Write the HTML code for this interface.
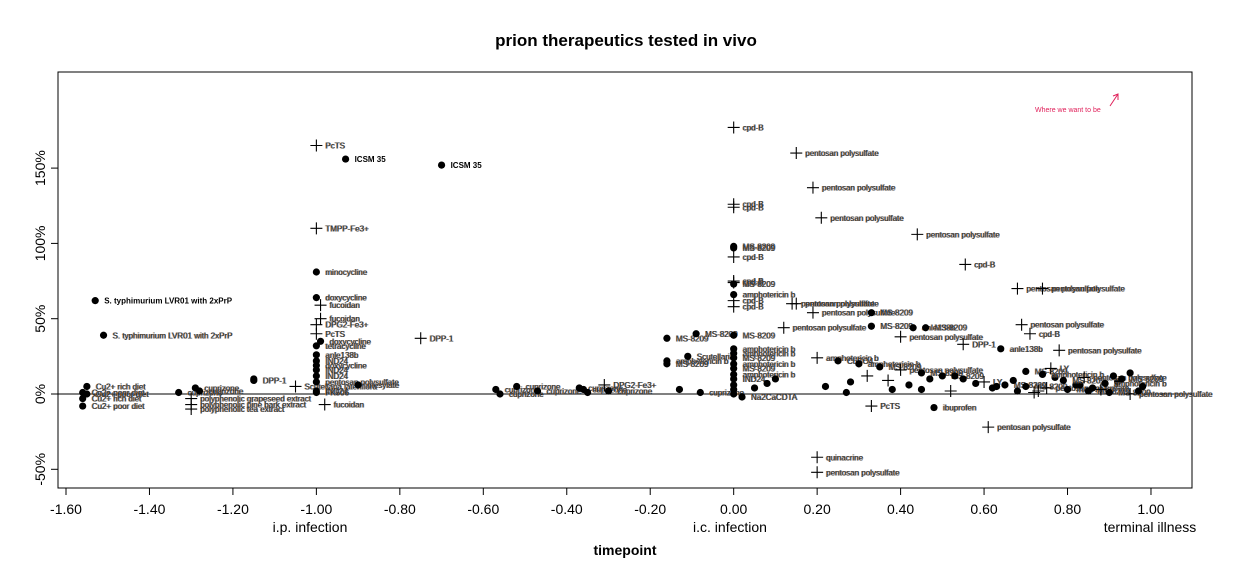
<!DOCTYPE html>
<html><head><meta charset="utf-8">
<style>
html,body{margin:0;padding:0;background:#fff;}
svg text{font-family:"Liberation Sans",sans-serif;}
.lbl{font-size:8px;fill:#333;text-shadow:-0.7px 0 rgba(216,112,10,0.7),0.7px 0 rgba(26,111,208,0.8);}
</style></head>
<body>
<svg id="chart" width="1252" height="582" xmlns="http://www.w3.org/2000/svg">
<rect width="1252" height="582" fill="#fff"/>
<text x="626" y="46" text-anchor="middle" font-size="17" font-weight="bold">prion therapeutics tested in vivo</text>
<rect x="58" y="72" width="1134" height="416" fill="none" stroke="#000" stroke-width="1"/>
<g id="axes"></g>
<g id="marks"></g>
<text x="625" y="555" text-anchor="middle" font-size="14" font-weight="bold">timepoint</text>
<text x="310" y="532" text-anchor="middle" font-size="14">i.p. infection</text>
<text x="730" y="532" text-anchor="middle" font-size="14">i.c. infection</text>
<text x="1150" y="532" text-anchor="middle" font-size="14">terminal illness</text>
<text x="1035" y="112" font-size="7" fill="#e0205a">Where we want to be</text>
<g stroke="#e0205a" fill="none" stroke-width="1">
<line x1="1110" y1="106" x2="1118" y2="94"/><polyline points="1113,96 1118,94 1118,100"/>
</g>
</svg>
<script>
const xTicks=[-1.6,-1.4,-1.2,-1.0,-0.8,-0.6,-0.4,-0.2,0.0,0.2,0.4,0.6,0.8,1.0];
const xTickLabels=["-1.60","-1.40","-1.20","-1.00","-0.80","-0.60","-0.40","-0.20","0.00","0.20","0.40","0.60","0.80","1.00"];
const yTicks=[-50,0,50,100,150];
const yTickLabels=["-50%","0%","50%","100%","150%"];
const px=[-1.53,-1.51,-1.55,-1.56,-1.56,-1.56,-1.55,-1.33,-1.29,-1.28,-1.30,-1.30,-1.30,-1.15,-1.15,-1.05,-1.00,-0.93,-0.70,-1.00,-1.00,-1.00,-0.99,-0.99,-1.00,-1.00,-0.99,-1.00,-1.00,-1.00,-1.00,-1.00,-1.00,-1.00,-1.00,-0.90,-1.00,-0.98,-0.75,-0.57,-0.56,-0.52,-0.47,-0.37,-0.36,-0.35,-0.31,-0.30,-0.16,-0.09,-0.16,-0.16,-0.11,-0.13,-0.08,
0.00,0.00,0.00,0.00,0.00,0.00,0.00,0.00,0.00,0.00,0.00,0.00,0.00,0.00,0.00,0.00,0.00,0.00,0.00,0.00,0.00,0.00,0.00,
0.15,0.19,0.21,0.44,0.555,0.68,0.74,0.15,0.14,0.19,0.33,0.33,0.43,0.46,0.40,0.55,0.64,0.78,0.69,0.71,0.12,0.48,0.33,0.61,0.20,0.20,0.02,
0.20,0.25,0.30,0.35,0.40,0.45,0.50,0.55,0.60,0.65,0.70,0.75,0.80,0.85,0.90,0.95,0.22,0.28,0.32,0.38,0.42,0.47,0.52,0.58,0.62,0.67,0.72,0.77,0.82,0.88,0.92,0.97,0.10,0.05,0.08,0.27,0.37,0.45,0.53,0.63,0.73,0.83,
0.70,0.74,0.79,0.84,0.89,0.93,0.98,0.76,0.86,0.91,0.68,0.95];
const py=[62,39,5,1,-3,-8,0,1,4,2,-3,-7,-10,9,10,5,165,156,152,110,81,64,59,50,46,40,35,32,26,22,19,16,12,8,2,6,1,-7,37,3,0,5,2,4,3,1,6,2,37,40,22,20,25,3,1,
177,126,124,98,97,91,75,74,73,66,62,58,39,30,27,24,20,17,13,10,6,3,0,
160,137,117,106,86,70,70,60,60,54,54,45,44,44,38,33,30,29,46,40,44,-9,-8,-22,-42,-52,-2,
24,22,20,18,16,14,12,10,8,6,5,4,3,2,1,0,5,8,12,3,6,10,2,7,4,9,1,11,6,3,8,2,10,4,7,1,9,3,12,5,2,6,
15,13,9,11,7,10,5,17,4,12,2,14];
const pm=["d","d","d","d","d","d","d","d","d","d","p","p","p","d","d","p","p","d","d","p","d","d","p","p","p","p","d","d","d","d","d","d","d","d","d","d","d","p","p","d","d","d","d","d","d","d","p","d","d","d","d","d","d","d","d",
"p","p","p","d","d","p","p","p","d","d","p","p","d","d","d","d","d","d","d","d","d","d","d",
"p","p","p","p","p","p","p","p","p","p","d","d","d","d","p","p","d","p","p","p","p","d","p","p","p","p","d",
"p","d","d","d","p","d","d","d","p","d","d","p","d","d","d","p","d","d","p","d","d","d","p","d","d","d","p","d","d","p","d","d","d","d","d","d","p","d","d","d","p","d",
"d","d","d","p","d","d","d","p","d","d","d","d"];
const pl=["S. typhimurium LVR01 with 2xPrP","S. typhimurium LVR01 with 2xPrP","Cu2+ rich diet","Cu2+ poor diet","Cu2+ rich diet","Cu2+ poor diet","Cu2+ poor diet","cuprizone","cuprizone","cuprizone","polyphenolic grapeseed extract","polyphenolic pine bark extract","polyphenolic tea extract","DPP-1","","Scutellaria lateriflora","PcTS","ICSM 35","ICSM 35","TMPP-Fe3+","minocycline","doxycycline","fucoidan","fucoidan","DPG2-Fe3+","PcTS","doxycycline","tetracycline","anle138b","IND24","doxycycline","IND24","IND24","pentosan polysulfate","IND24","mesylate","FK506","fucoidan","DPP-1","cuprizone","cuprizone","cuprizone","cuprizone","cuprizone","cuprizone","","DPG2-Fe3+","cuprizone","MS-8209","MS-8209","amphotericin b","MS-8209","Scutellaria","","cuprizone",
"cpd-B","cpd-B","cpd-B","MS-8209","MS-8209","cpd-B","cpd-B","cpd-B","MS-8209","amphotericin b","cpd-B","cpd-B","MS-8209","amphotericin b","amphotericin b","MS-8209","amphotericin b","MS-8209","amphotericin b","IND24","","","",
"pentosan polysulfate","pentosan polysulfate","pentosan polysulfate","pentosan polysulfate","cpd-B","pentosan polysulfate","pentosan polysulfate","pentosan polysulfate","pentosan polysulfate","pentosan polysulfate","MS-8209","MS-8209","anle138b","MS-8209","pentosan polysulfate","DPP-1","anle138b","pentosan polysulfate","pentosan polysulfate","cpd-B","pentosan polysulfate","ibuprofen","PcTS","pentosan polysulfate","quinacrine","pentosan polysulfate","Na2CaCDTA",
"amphotericin b","CuSO4","amphotericin b","MS-8209","pentosan polysulfate","MS-8209","MS-8209","","LY","MS-8209","MS-8209","pentosan polysulfate","mAb 31C6","MS-8209","MS-8209","pentosan polysulfate","","","","","","","","","","","","","","","","","","","","","","","","","","",
"MS-8209","amphotericin b","MS-8209","pentosan polysulfate","amphotericin b","MS-8209","","LY","","","",""];
const bold=[0,17,18];
const X=v=>66+(v+1.6)*417.3, Y=v=>394-v*1.506;
const NS="http://www.w3.org/2000/svg";
const ax=document.getElementById('axes'), mk=document.getElementById('marks');
function mkEl(t,a,p){const e=document.createElementNS(NS,t);for(const k in a)e.setAttribute(k,a[k]);p.appendChild(e);return e;}
xTicks.forEach((v,i)=>{
  const t=mkEl('line',{x1:X(v),x2:X(v),y1:488,y2:495,stroke:'#000'},ax);
  
  
  const l=mkEl('text',{x:X(v),y:514,'text-anchor':'middle','font-size':14},ax);
  l.textContent=xTickLabels[i];
  
  
});
yTicks.forEach((v,i)=>{
  const t=mkEl('line',{x1:51,x2:58,y1:Y(v),y2:Y(v),stroke:'#000'},ax);
  
  
  const l=mkEl('text',{x:0,y:0,'text-anchor':'middle','font-size':14,transform:`translate(45,${Y(v)}) rotate(-90)`},ax);
  l.textContent=yTickLabels[i];
  
  
});
const zl=mkEl('line',{x1:58,x2:1192,y1:Y(0),y2:Y(0),stroke:'#000'},ax);


px.forEach((v,i)=>{
  const cx=X(v), cy=Y(py[i]);
  let m;
  if(pm[i]==='d'){m=mkEl('circle',{cx:cx,cy:cy,r:3.6,fill:'#000'},mk);}
  else{m=mkEl('path',{d:`M${cx-6},${cy}H${cx+6}M${cx},${cy-6}V${cy+6}`,stroke:'#000','stroke-width':1.1},mk);}
  
  
  if(pl[i]){
    const t=mkEl('text',{x:cx+9,y:cy+3,class:'lbl'},mk);
    if(bold.includes(i)){t.setAttribute('font-weight','bold');t.setAttribute('style','fill:#000;text-shadow:none');}
    t.textContent=pl[i];
    
    
  }
});
</script>
</body></html>
